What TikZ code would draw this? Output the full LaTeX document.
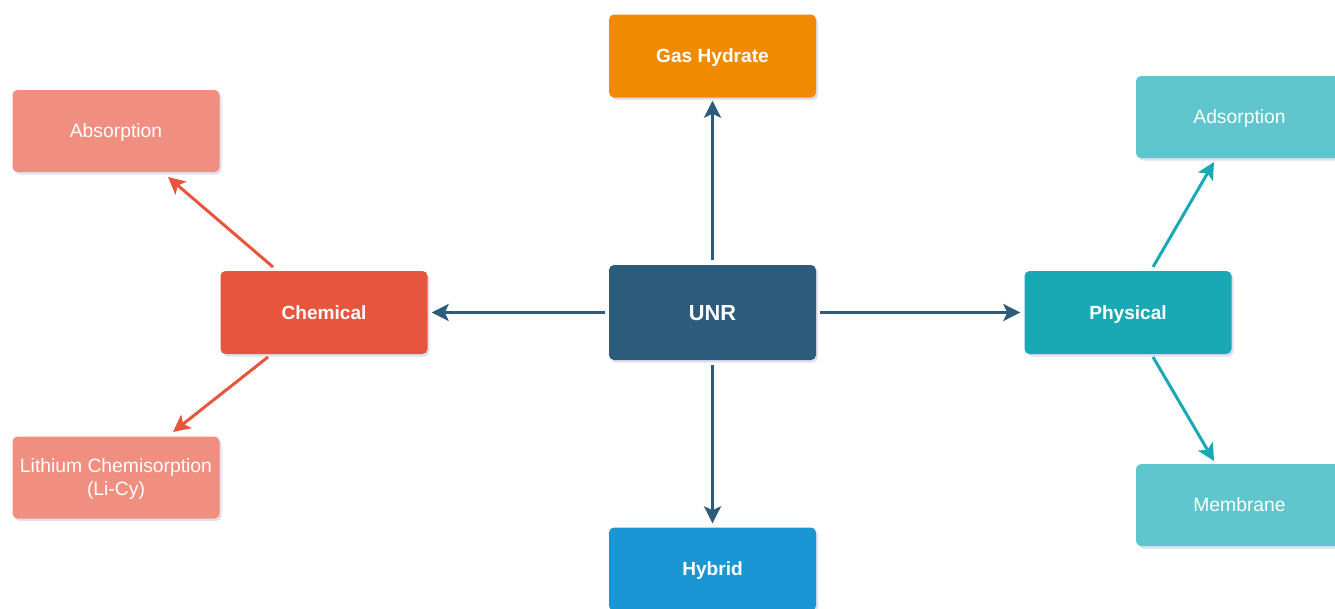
\documentclass[tikz,border=0pt]{standalone}
\usepackage{fontspec}
\setmainfont{Liberation Sans}
\usetikzlibrary{arrows.meta,shadows}
\definecolor{cUNR}{HTML}{2D5B7B}
\definecolor{cGas}{HTML}{F08A00}
\definecolor{cHyb}{HTML}{1A96D4}
\definecolor{cChem}{HTML}{E8553F}
\definecolor{cChemL}{HTML}{F08E80}
\definecolor{cPhys}{HTML}{18A9B4}
\definecolor{cPhysL}{HTML}{5EC6CC}
\tikzset{
  box/.style={rounded corners=5pt, minimum width=207pt, inner sep=0pt, text=white, align=center,
    drop shadow={shadow xshift=2pt, shadow yshift=-2.5pt, opacity=0.3, fill=black!50!blue!40}},
  mainbox/.style={box, minimum height=95pt, text height=15.6pt, text depth=0pt,
    font=\bfseries\fontsize{21.8}{24}\selectfont},
  subbox/.style={box, minimum height=83pt, text height=13.7pt, text depth=0pt,
    font=\bfseries\fontsize{19.1}{22}\selectfont},
  leafbox/.style={box, minimum height=82pt, text height=13.8pt, text depth=0pt,
    font=\fontsize{19.3}{23}\selectfont},
  conn/.style={line width=3pt, -{Stealth[length=17pt,width=17pt,inset=4pt]}},
}
\begin{document}
\begin{tikzpicture}[x=1pt,y=-1pt]
\useasboundingbox (0,0) rectangle (1335,608);
\clip (0,0) rectangle (1335,608);
\node[mainbox, fill=cUNR] (unr) at (712.5,312.5) {UNR};
\node[subbox, fill=cGas] (gas) at (712.5,56) {Gas Hydrate};
\node[subbox, fill=cHyb] (hyb) at (712.5,569) {Hybrid};
\node[subbox, fill=cChem] (chem) at (324,312.5) {Chemical};
\node[subbox, fill=cPhys] (phys) at (1128,312.5) {Physical};
\node[leafbox, fill=cChemL] (abs) at (116,131) {Absorption};
\node[leafbox, fill=cChemL, text height=36.8pt] (li) at (116,477.5) {Lithium Chemisorption\\(Li-Cy)};
\node[leafbox, fill=cPhysL] (ads) at (1239.5,117) {Adsorption};
\node[leafbox, fill=cPhysL] (mem) at (1239.5,505) {Membrane};

\draw[conn, cUNR] ([yshift=5pt]unr.north) -- ([yshift=-3pt]gas.south);
\draw[conn, cUNR] ([yshift=-5pt]unr.south) -- ([yshift=4pt]hyb.north);
\draw[conn, cUNR] ([xshift=-4pt]unr.west) -- ([xshift=4pt]chem.east);
\draw[conn, cUNR] ([xshift=4pt]unr.east) -- ([xshift=-4pt]phys.west);
\coordinate (c1) at (273,267);
\coordinate (c2) at (268,357);
\coordinate (p1) at (1153,267);
\coordinate (p2) at (1153,357);
\coordinate (abst) at (168,177);
\coordinate (lit) at (173,432);
\coordinate (adst) at (1214,162);
\coordinate (memt) at (1214,461);
\draw[conn, cChem] (c1) -- (abst);
\draw[conn, cChem] (c2) -- (lit);
\draw[conn, cPhys] (p1) -- (adst);
\draw[conn, cPhys] (p2) -- (memt);
\end{tikzpicture}
\end{document}
